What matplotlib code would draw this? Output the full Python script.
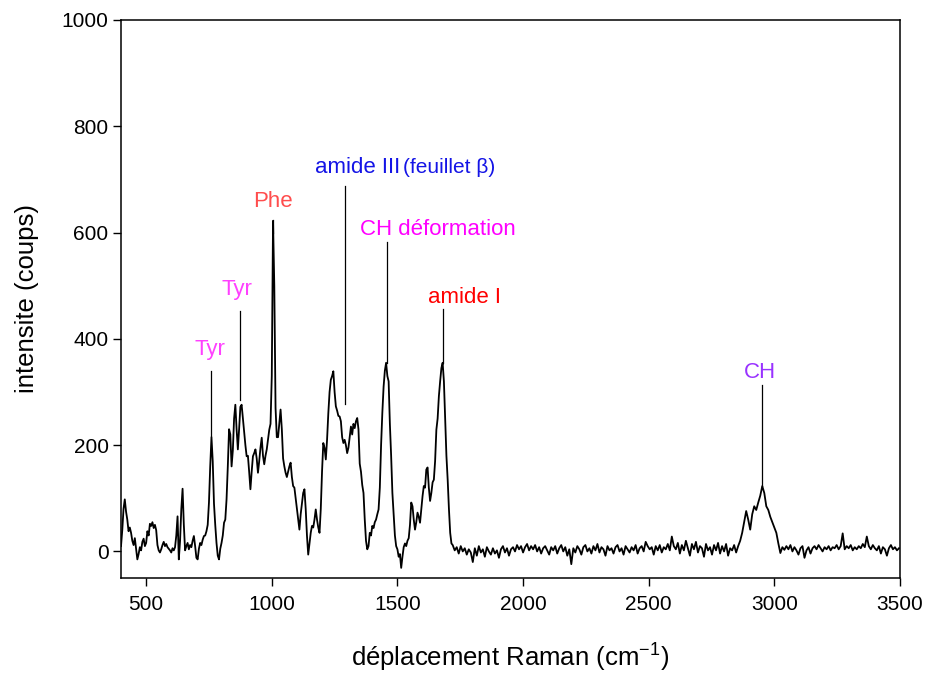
import matplotlib.pyplot as plt
import numpy as np

plt.rcParams['font.family'] = ['Liberation Sans', 'DejaVu Sans']

# spectre Raman : 400-1715 cm-1 par pas de 5, puis 1720-3496 par pas de 8
shift_low = np.arange(400, 1720, 5)
counts_low = [
    10, 40, 80, 98, 75, 60, 38, 45, 35, 20, 12, 25, 5, -15, -5, 8, 2, 18, 24, 10,
    16, 38, 30, 52, 48, 55, 44, 50, 40, 12, 2, -2, 4, 12, 18, 10, 14, 8, 5, 2,
    -2, 6, 2, 8, 30, 66, -15, 20, 80, 118, 50, 2, 10, 16, 4, 12, 8, 20, 29, 10,
    -12, -15, 5, 16, 12, 22, 29, 30, 38, 50, 92, 160, 215, 170, 90, 50, 16, -8, -15, 5,
    16, 30, 54, 60, 98, 160, 230, 220, 160, 190, 250, 276, 230, 192, 230, 272, 276, 250, 223, 200,
    179, 180, 150, 117, 150, 179, 185, 192, 175, 148, 170, 195, 214, 180, 164, 180, 192, 210, 229, 240,
    330, 622, 500, 270, 215, 215, 240, 267, 230, 175, 160, 148, 140, 150, 160, 167, 140, 123, 120, 100,
    79, 60, 41, 70, 90, 110, 117, 80, 30, -6, 15, 35, 48, 45, 60, 79, 60, 45, 35, 80,
    150, 204, 195, 173, 210, 260, 300, 323, 330, 339, 300, 273, 265, 255, 254, 245, 215, 204, 210, 200,
    185, 195, 215, 235, 220, 240, 232, 245, 251, 230, 165, 150, 125, 110, 60, 20, 4, 10, 35, 30,
    48, 44, 55, 60, 70, 79, 120, 200, 261, 310, 340, 355, 330, 320, 240, 180, 110, 70, 30, 10,
    4, -10, -5, -31, -10, 8, 15, 10, 20, 25, 50, 92, 85, 60, 41, 55, 73, 65, 54, 80,
    104, 123, 120, 154, 158, 120, 95, 110, 130, 135, 170, 229, 250, 292, 320, 345, 355, 320, 250, 180,
    135, 80, 35, 15,
]

shift_high = np.arange(1720, 3500, 8)
counts_high = [
    12, 2, 8, -4, 10, 0, 6, -6, 4, -2,
    -20, 6, -8, 10, -2, 4, -10, 8, 0, -6,
    6, -4, 2, -12, 4, 10, -2, 6, -8, 4,
    8, 0, 12, 4, 10, -2, 8, 14, 2, 10,
    4, 12, 0, 8, -4, 6, 10, 2, -6, 8,
    2, 10, -4, 6, 12, 0, 8, -8, 4, -24,
    6, -2, 10, 4, -6, 8, 12, 0, 6, -4,
    10, 2, 14, -2, 8, 4, -8, 10, 2, 6,
    -4, 8, 12, 0, 6, -6, 10, 4, -2, 8,
    2, 12, -4, 6, 10, 0, 18, 10, 4, 8,
    -6, 10, 2, 12, -2, 8, 4, 14, 2, 28,
    10, 4, 16, -4, 12, 2, 20, 6, -8, 14,
    4, 18, -2, 10, 6, -10, 14, 2, 8, -6,
    12, 2, 16, -4, 10, 0, 14, -8, 6, 2, 12, -2, 10,
    # bande CH
    20, 35, 55, 76, 60, 41, 70, 85, 78, 92, 105, 123, 110, 85, 78, 65, 55, 45, 35, 15, -3, 8, 3,
    10, 4, 12, 0, 8, 2, -6, 6, 10, -12,
    2, 8, -4, 6, 10, 4, 12, 6, 0, 8,
    4, 10, 2, 8, 6, 12, 4, 10, 34, 4,
    10, 6, 12, 2, 8, 4, 10, 6, 14, 8,
    28, 10, 4, 12, 6, 2, 10, -4, 8, 4,
    -8, 6, 12, 4, 8, 2, 6,
]

shift = np.concatenate([shift_low, shift_high])
counts = np.array(counts_low + counts_high)

# attributions des bandes : texte, position du texte, trait (x, bas, haut), couleur
band_labels = ['Tyr', 'Tyr', 'Phe', 'amide III', 'CH déformation', 'amide I', 'CH']
label_x = [753, 861, 1005, 1341, 1661, 1765, 2941]
label_y = [380, 492, 658, 722, 605, 477, 336]
line_x = [760, 872, 1006, 1293, 1460, 1681, 2949]
line_bottom = [217, 284, 600, 278, 355, 355, 123]
line_top = [340, 453, 624, 688, 583, 457, 314]
label_colors = ['#ff40ff', '#ff40ff', '#ff4d4d', '#1414e6', '#ff00ff', '#ff0000', '#9933ff']

fig = plt.figure(figsize=(9.28, 6.75), dpi=100)
ax = fig.add_axes([0.1304, 0.1437, 0.8394, 0.8267])

ax.plot(shift, counts, color='black', lw=1.3)

for x, y0, y1 in zip(line_x, line_bottom, line_top):
    ax.plot([x, x], [y0, y1], color='black', lw=0.9)

for txt, x, y, c in zip(band_labels, label_x, label_y, label_colors):
    ax.text(x, y, txt, color=c, fontsize=16, ha='center', va='center')
ax.text(1521, 722, '(feuillet β)', color='#1414e6', fontsize=15, ha='left', va='center',
        family=['Liberation Sans', 'DejaVu Sans'])

ax.set_xlim(400, 3500)
ax.set_ylim(-50, 1000)
ax.set_xticks(np.arange(500, 3501, 500))
ax.set_yticks(np.arange(0, 1001, 200))
ax.tick_params(direction='out', length=6, width=1, labelsize=15)
ax.tick_params(axis='x', pad=6)
ax.tick_params(axis='y', pad=3)
for s in ax.spines.values():
    s.set_linewidth(1.1)

ax.set_xlabel('déplacement Raman (cm$^{\\mathregular{-1}}$)', fontsize=18.5, labelpad=19)
ax.set_ylabel('intensite (coups)', fontsize=18.5, labelpad=16)

fig.savefig('out.png', dpi=100)
